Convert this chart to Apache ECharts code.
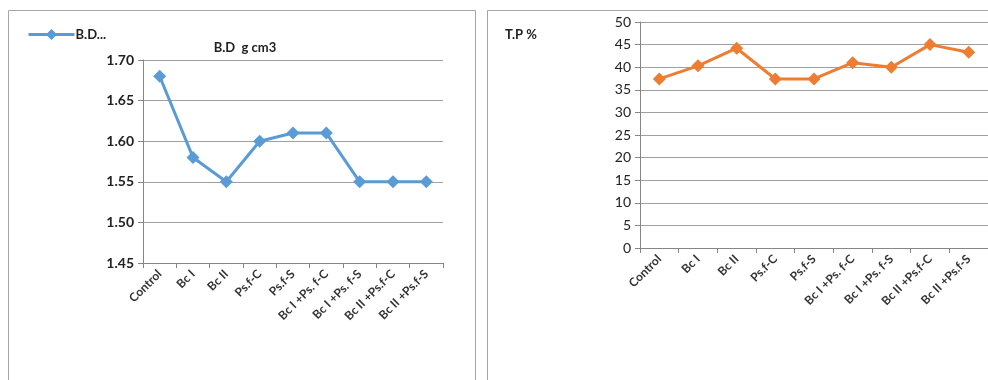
<!DOCTYPE html>
<html><head><meta charset="utf-8">
<script src="https://cdn.jsdelivr.net/npm/echarts@6/dist/echarts.min.js"></script>
<style>html,body{margin:0;padding:0;background:#fff}#c{width:988px;height:380px}</style>
</head><body><div id="c"></div>
<script>
const categories = ['Control','Bc I','Bc II','Ps.f-C','Ps.f-S','Bc I +Ps. f-C','Bc I +Ps. f-S','Bc II +Ps.f-C','Bc II +Ps.f-S'];
const bdValues = [1.68, 1.58, 1.55, 1.60, 1.61, 1.61, 1.55, 1.55, 1.55];
const tpValues = [37.4, 40.3, 44.2, 37.4, 37.4, 41.0, 40.0, 45.0, 43.3];
const bdTicks = {min: 1.45, max: 1.70, interval: 0.05};
const tpTicks = {min: 0, max: 50, interval: 5};

const FONT = 'Lato';
const gridCol = '#a0a0a0';
const axisCol = '#868686';
const chart = echarts.init(document.getElementById('c'), null, {renderer:'canvas'});
function xAxis(idx){
  return {type:'category', gridIndex:idx, data:categories, boundaryGap:true,
    axisLine:{lineStyle:{color:axisCol,width:1}},
    axisTick:{show:true, length:5, inside:false, alignWithLabel:false, lineStyle:{color:axisCol}},
    axisLabel:{rotate:45, interval:0, fontFamily:FONT, fontSize:12, fontWeight:'bold', color:'#333', margin:9}};
}
chart.setOption({
  animation:false,
  graphic:[
    {type:'rect', shape:{x:8.5,y:10.5,width:467,height:380}, style:{fill:null, stroke:'#a6a6a6', lineWidth:1}},
    {type:'rect', shape:{x:487.5,y:10.5,width:520,height:380}, style:{fill:null, stroke:'#a6a6a6', lineWidth:1}}
  ],
  title:[
    {text:'B.D  g cm3', left:240, top:36, textAlign:'center', textStyle:{fontFamily:FONT, fontSize:13, fontWeight:'bold', color:'#222'}},
    {text:'T.P %', left:500, top:23, textStyle:{fontFamily:FONT, fontSize:13, fontWeight:'bold', color:'#222'}}
  ],
  legend:{left:22, top:23, itemWidth:46, itemHeight:14, itemGap:4, data:['B.D'],
    lineStyle:{width:3},
    formatter:function(){return 'B.D...';},
    textStyle:{fontFamily:FONT, fontSize:13, fontWeight:'bold', color:'#222', padding:[0,0,0,-4]}},
  grid:[
    {left:143, top:60, width:300, height:203},
    {left:640, top:22, width:350, height:226}
  ],
  xAxis:[xAxis(0), xAxis(1)],
  yAxis:[
    {type:'value', gridIndex:0, min:bdTicks.min, max:bdTicks.max, interval:bdTicks.interval,
      axisLine:{show:true, lineStyle:{color:axisCol}},
      axisTick:{show:true, length:5, lineStyle:{color:axisCol}},
      splitLine:{lineStyle:{color:gridCol}},
      axisLabel:{formatter:v=>v.toFixed(2), fontFamily:FONT, fontSize:14, fontWeight:'bold', color:'#222', margin:9}},
    {type:'value', gridIndex:1, min:tpTicks.min, max:tpTicks.max, interval:tpTicks.interval,
      axisLine:{show:true, lineStyle:{color:axisCol}},
      axisTick:{show:true, length:5, lineStyle:{color:axisCol}},
      splitLine:{lineStyle:{color:gridCol}},
      axisLabel:{fontFamily:FONT, fontSize:14, color:'#222', margin:9}}
  ],
  series:[
    {name:'B.D', type:'line', xAxisIndex:0, yAxisIndex:0, data:bdValues,
      symbol:'diamond', symbolSize:13, lineStyle:{color:'#5b9bd5', width:3},
      itemStyle:{color:'#5b9bd5'}},
    {name:'T.P', type:'line', xAxisIndex:1, yAxisIndex:1, data:tpValues,
      symbol:'diamond', symbolSize:13, lineStyle:{color:'#ed7d31', width:3},
      itemStyle:{color:'#ed7d31'}}
  ]
});
</script></body></html>
